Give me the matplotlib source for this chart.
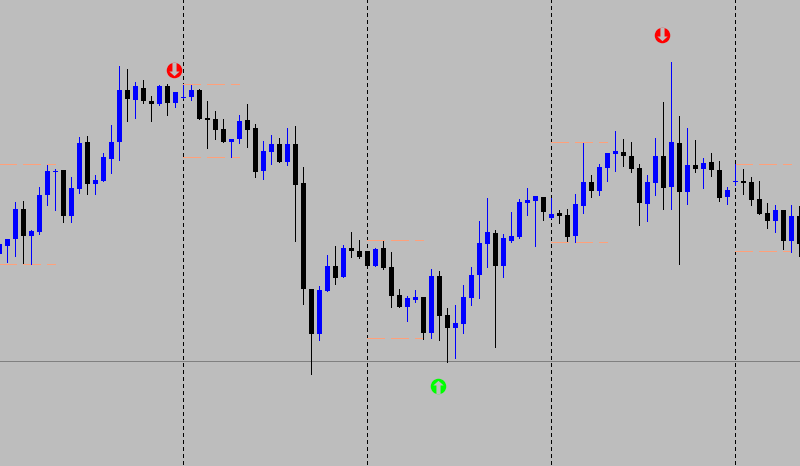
import matplotlib
matplotlib.use('Agg')
import matplotlib.pyplot as plt
from matplotlib.path import Path

BG = '#bdbdbd'

# candle values, y axis runs downwards like the chart window
highs = [241, 239, 202, 201, 230, 187, 165, 169, 170, 177,
         137, 136, 175, 153, 125, 66, 69, 82, 80, 96,
         85, 84, 92, 85, 85, 89, 101, 111, 119, 139,
         115, 104, 124, 141, 135, 138, 128, 126, 167, 289,
         286, 255, 246, 245, 232, 240, 251, 248, 241, 252,
         289, 296, 290, 297, 269, 271, 308, 305, 285, 267,
         221, 198, 230, 234, 212, 199, 188, 196, 197, 198,
         210, 209, 194, 143, 175, 164, 153, 131, 139, 142,
         164, 175, 138, 102, 62, 116, 128, 140, 158, 153,
         161, 187, 164, 169, 177, 181, 203, 205, 210, 205, 206]
tops = [244, 239, 209, 209, 231, 195, 171, 171, 170, 188,
        143, 142, 180, 157, 142, 90, 90, 86, 88, 101,
        86, 86, 92, 97, 90, 90, 118, 119, 129, 139,
        121, 120, 128, 151, 144, 144, 144, 144, 183, 289,
        290, 266, 266, 248, 248, 251, 251, 249, 248, 267,
        295, 298, 297, 297, 276, 276, 315, 323, 297, 275,
        243, 232, 233, 238, 236, 202, 200, 196, 197, 214,
        213, 215, 204, 182, 182, 167, 153, 151, 152, 156,
        168, 182, 156, 156, 142, 143, 165, 165, 163, 162,
        170, 190, 181, 181, 182, 199, 213, 210, 210, 216, 216]
bottoms = [254, 246, 239, 236, 236, 232, 195, 172, 216, 216,
           189, 184, 184, 181, 159, 142, 99, 100, 101, 104,
           104, 103, 103, 98, 97, 119, 120, 130, 142, 142,
           139, 130, 172, 171, 152, 162, 162, 185, 289, 334,
           334, 291, 278, 277, 251, 257, 266, 266, 268, 296,
           307, 307, 300, 333, 333, 316, 328, 328, 324, 298,
           275, 244, 266, 266, 241, 237, 203, 201, 212, 218,
           216, 237, 236, 206, 191, 191, 168, 154, 156, 169,
           203, 204, 183, 188, 187, 192, 192, 169, 169, 170,
           198, 197, 182, 183, 200, 214, 221, 221, 241, 241, 244]
lows = [258, 262, 256, 263, 264, 234, 205, 210, 222, 222,
        193, 194, 194, 181, 173, 160, 121, 118, 103, 121,
        105, 115, 107, 98, 100, 119, 148, 139, 142, 157,
        143, 147, 177, 179, 164, 162, 165, 241, 304, 374,
        340, 291, 284, 277, 257, 258, 266, 266, 269, 307,
        307, 321, 302, 339, 338, 340, 362, 358, 333, 305,
        298, 267, 347, 277, 242, 238, 215, 246, 220, 218,
        223, 241, 242, 213, 197, 195, 181, 171, 166, 172,
        225, 221, 195, 209, 209, 264, 204, 172, 188, 176,
        201, 204, 185, 194, 205, 214, 228, 232, 249, 252, 256]
# 1 = blue candle, 0 = black candle
blue = [1, 1, 1, 0, 1, 1, 1, 1, 0, 1,
        1, 0, 1, 1, 1, 1, 0, 1, 0, 0,
        1, 0, 1, 1, 1, 0, 0, 0, 0, 1,
        1, 0, 0, 1, 1, 0, 1, 0, 0, 0,
        1, 1, 0, 1, 0, 0, 0, 1, 0, 0,
        0, 1, 1, 0, 1, 0, 0, 1, 1, 1,
        1, 1, 0, 1, 1, 1, 1, 1, 0, 1,
        0, 0, 1, 1, 0, 1, 1, 1, 0, 0,
        0, 1, 1, 0, 1, 0, 1, 0, 1, 0,
        0, 1, 1, 0, 0, 0, 0, 1, 0, 1, 0]

# period separators and the high/low levels drawn from each one
period_start = [23, 46, 69, 92]
level_start = [0, 23, 46, 69, 92]
level_high = [164, 84, 240, 142, 164]
level_low = [264, 157, 338, 242, 251]
support = 361

# signal arrows
sell_x = [21.9, 82.85]
sell_y = [70.5, 35.5]
buy_x = [54.9]
buy_y = [386]

x = list(range(len(highs)))
colors = ['#0000ff' if b else '#000000' for b in blue]

fig = plt.figure(figsize=(8, 4.66), dpi=100, facecolor=BG)
ax = fig.add_axes([0, 0, 1, 1], facecolor=BG)

# separators
for s in period_start:
    ax.axvline(s, color='black', lw=0.72, linestyle=(5, (3, 3)), antialiased=False, zorder=1)
ax.axhline(support + 0.5, color='#808080', lw=0.72, antialiased=False, zorder=1)

# daily levels, 3 dashes after each separator
for s, hi, lo in zip(level_start, level_high, level_low):
    for y in (hi, lo):
        ax.plot([s, s + 7], [y + 0.5, y + 0.5], color='#ffa07a', lw=0.72,
                linestyle=(0, (18, 6)), dash_capstyle='butt', antialiased=False, zorder=2)

# candles
ax.vlines(x, highs, lows, colors=colors, lw=0.72, antialiased=False, zorder=3)
ax.bar(x, [b - t for b, t in zip(bottoms, tops)], bottom=tops, width=5 / 8,
       color=colors, linewidth=0, antialiased=False, zorder=4)

# arrow cut out of the disc, marker paths have y pointing up
down = Path([(-2, 7.5), (2, 7.5), (2, -1), (5, -1), (0, -5.5), (-5, -1), (-2, -1), (-2, 7.5)], closed=True)
up = Path([(-2, -7.5), (2, -7.5), (2, 1), (5, 1), (0, 5.5), (-5, 1), (-2, 1), (-2, -7.5)], closed=True)
disc = 15.5 * 0.72
ax.scatter(sell_x, sell_y, s=disc ** 2, marker='o', color='#ff0000', linewidth=0, zorder=5)
ax.scatter(sell_x, sell_y, s=disc ** 2, marker=down, color=BG, linewidth=0, zorder=6)
ax.scatter(buy_x, buy_y, s=disc ** 2, marker='o', color='#00ff00', linewidth=0, zorder=5)
ax.scatter(buy_x, buy_y, s=disc ** 2, marker=up, color=BG, linewidth=0, zorder=6)

# nudge by a quarter pixel so lines and bars round onto the same pixels as the chart
ax.set_xlim(0.09375, 100.09375)
ax.set_ylim(466.25, 0.25)
ax.axis('off')

fig.savefig('out.png', dpi=100, facecolor=BG)
